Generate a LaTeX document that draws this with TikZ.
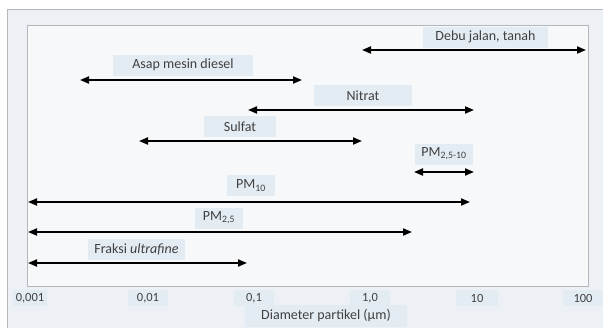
\documentclass[tikz,border=0pt]{standalone}
\usepackage{fontspec}
\setmainfont{Carlito}
\usetikzlibrary{arrows.meta}
\definecolor{outerbg}{HTML}{EDF1F5}
\definecolor{innerbg}{HTML}{F7F8FA}
\definecolor{lblbg}{HTML}{E4ECF3}
\definecolor{frame}{HTML}{B4B8BC}
\definecolor{txt}{HTML}{404040}
\tikzset{
  rng/.style={line width=1.9pt, black, {Triangle[length=9pt,width=7pt]}-{Triangle[length=9pt,width=7pt]}},
  lbl/.style={fill=lblbg, text=txt, font=\fontsize{14}{16}\selectfont, inner sep=0pt, minimum height=21pt},
  tick/.style={fill=lblbg, text=txt, font=\fontsize{12.5}{14}\selectfont, inner sep=0pt, minimum height=16pt},
}
\begin{document}
\begin{tikzpicture}[x=1pt,y=-1pt]
\useasboundingbox (0,0) rectangle (603,327);
\fill[white] (0,0) rectangle (603,327);
\draw[frame, fill=outerbg, line width=0.6pt] (7,9) rectangle (606,330);
\draw[frame, fill=innerbg, line width=0.6pt] (27,25) rectangle (588,286);
% labels
\node[lbl, minimum width=125pt] (ldebu) at (485.5,37) {Debu jalan, tanah};
\node[lbl, minimum width=140pt] (lasap) at (183,65) {Asap mesin diesel};
\node[lbl, minimum width=98pt] (lnit) at (363,95.5) {Nitrat};
\node[lbl, minimum width=72pt] (lsul) at (240,126.5) {Sulfat};
\node[lbl, minimum width=58pt] (lpmc) at (444,154) {PM\textsubscript{2,5-10}};
\node[lbl, minimum width=48pt] (lpm10) at (251,185.5) {PM\textsubscript{10}};
\node[lbl, minimum width=48pt] (lpm25) at (219,218) {PM\textsubscript{2,5}};
\node[lbl, minimum width=97pt] (lfr) at (136.5,249.5) {Fraksi \textit{ultrafine}};
% arrows
\coordinate (d1) at (362,50); \coordinate (d2) at (586,50);
\coordinate (a1) at (80,80); \coordinate (a2) at (302,80);
\coordinate (n1) at (248,110); \coordinate (n2) at (474,110);
\coordinate (s1) at (139,141); \coordinate (s2) at (362,141);
\coordinate (c1) at (414,172); \coordinate (c2) at (474,172);
\coordinate (p1) at (28,202); \coordinate (p2) at (470,202);
\coordinate (q1) at (28,232); \coordinate (q2) at (412,232);
\coordinate (f1) at (28,263); \coordinate (f2) at (247,263);
\draw[rng] (d1) -- (d2);
\draw[rng] (a1) -- (a2);
\draw[rng] (n1) -- (n2);
\draw[rng] (s1) -- (s2);
\draw[rng] (c1) -- (c2);
\draw[rng] (p1) -- (p2);
\draw[rng] (q1) -- (q2);
\draw[rng] (f1) -- (f2);
% ticks
\node[tick, minimum width=34pt] (t1) at (30,298) {0,001};
\node[tick, minimum width=40pt] (t2) at (148,298) {0,01};
\node[tick, minimum width=40pt] (t3) at (254,298) {0,1};
\node[tick, minimum width=40pt] (t4) at (370,298) {1,0};
\node[tick, minimum width=42pt] (t5) at (477,298) {10};
\node[tick, minimum width=40pt] (t6) at (583,298) {100};
\node[lbl, minimum width=162pt, minimum height=22pt] (xt) at (326,316) {Diameter partikel (µm)};
\end{tikzpicture}
\end{document}
